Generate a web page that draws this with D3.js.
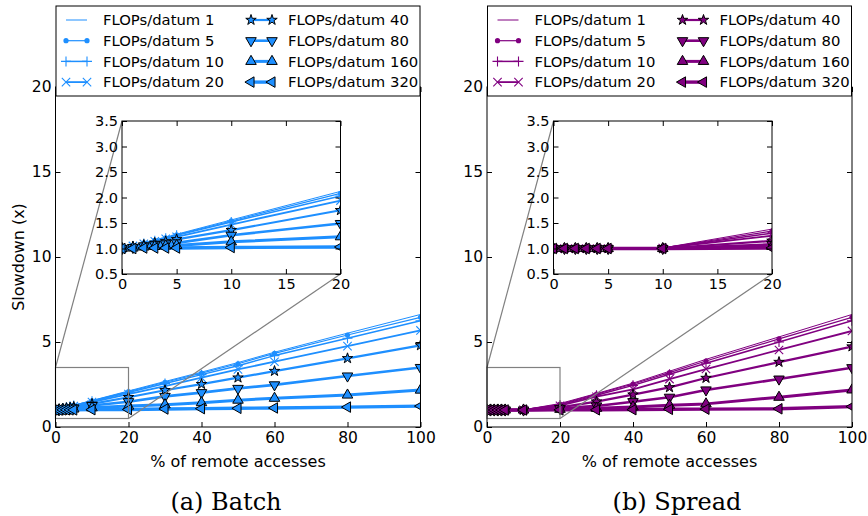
<!DOCTYPE html>
<html>
<head>
  <style>
    body { margin: 0; background: #fff; }
    svg { font-family: "DejaVu Sans", sans-serif; }
    .tick line { stroke: #000; stroke-width: 1px; }
    .caption { font-family: "DejaVu Serif", serif; font-size: 24px; }
  </style>
  <script src="https://d3js.org/d3.v7.min.js"></script>
</head>
<body>
<script>
// % of remote accesses
const remotePct = [0, 1, 2, 3, 4, 5, 10, 20, 30, 40, 50, 60, 80, 100];
const flops = [1, 5, 10, 20, 40, 80, 160, 320];

// slowdown per FLOPs/datum
const batchValues = [
  [1.00, 1.06, 1.11, 1.17, 1.22, 1.28, 1.56, 2.12, 2.68, 3.23, 3.79, 4.40, 5.52, 6.62],
  [1.00, 1.05, 1.11, 1.16, 1.21, 1.27, 1.54, 2.08, 2.63, 3.17, 3.72, 4.33, 5.41, 6.45],
  [1.00, 1.05, 1.10, 1.15, 1.20, 1.26, 1.52, 2.03, 2.56, 3.08, 3.60, 4.20, 5.22, 6.25],
  [1.00, 1.05, 1.09, 1.14, 1.19, 1.23, 1.47, 1.94, 2.41, 2.90, 3.39, 3.84, 4.76, 5.68],
  [1.00, 1.04, 1.07, 1.11, 1.14, 1.18, 1.36, 1.75, 2.16, 2.52, 2.90, 3.29, 4.04, 4.80],
  [1.00, 1.02, 1.05, 1.07, 1.09, 1.11, 1.26, 1.49, 1.80, 2.02, 2.27, 2.48, 3.00, 3.50],
  [1.00, 1.01, 1.03, 1.04, 1.05, 1.06, 1.13, 1.23, 1.31, 1.43, 1.58, 1.69, 1.88, 2.17],
  [1.00, 1.00, 1.01, 1.01, 1.01, 1.01, 1.02, 1.03, 1.06, 1.08, 1.10, 1.12, 1.17, 1.23]
];
const spreadValues = [
  [1.00, 1.00, 1.00, 1.00, 1.00, 1.00, 1.01, 1.38, 1.97, 2.58, 3.28, 3.98, 5.30, 6.62],
  [1.00, 1.00, 1.00, 1.00, 1.00, 1.00, 1.01, 1.34, 1.93, 2.53, 3.20, 3.88, 5.18, 6.45],
  [1.00, 1.00, 1.00, 1.00, 1.00, 1.00, 1.01, 1.30, 1.87, 2.45, 3.10, 3.75, 5.00, 6.25],
  [1.00, 1.00, 1.00, 1.00, 1.00, 1.00, 1.01, 1.25, 1.78, 2.22, 2.82, 3.41, 4.53, 5.65],
  [1.00, 1.00, 1.00, 1.00, 1.00, 1.00, 1.00, 1.15, 1.49, 1.90, 2.33, 2.88, 3.82, 4.73],
  [1.00, 1.00, 1.00, 1.00, 1.00, 1.00, 1.00, 1.08, 1.24, 1.49, 1.75, 2.18, 2.82, 3.49],
  [1.00, 1.00, 1.00, 1.00, 1.00, 1.00, 1.00, 1.04, 1.10, 1.18, 1.28, 1.36, 1.75, 2.18],
  [1.00, 1.00, 1.00, 1.00, 1.00, 1.00, 1.00, 1.01, 1.01, 1.02, 1.04, 1.05, 1.07, 1.20]
];

const xTicks = [0, 20, 40, 60, 80, 100];
const yTicks = [0, 5, 10, 15, 20];
const insetXTicks = [0, 5, 10, 15, 20];
const insetYTicks = [0.5, 1.0, 1.5, 2.0, 2.5, 3.0, 3.5];

const markerTypes = ['none', 'point', 'plus', 'cross', 'star', 'tridown', 'triup', 'trileft'];
const lineWidths = [1, 1.2, 1.5, 1.8, 2.2, 2.6, 3, 3.4];

const width = 868, height = 516;
const svg = d3.select('body').append('svg')
  .attr('width', width)
  .attr('height', height);
const defs = svg.append('defs');

const panels = [
  {id: 'a', x0: 55.5, values: batchValues, color: '#1e8fff', caption: '(a) Batch', captionX: 226, ylabel: true},
  {id: 'b', x0: 487, values: spreadValues, color: '#800080', caption: '(b) Spread', captionX: 677, ylabel: false}
];

function drawMarker(sel, type, color){
  if(type === 'none') return;
  if(type === 'point'){
    sel.append('circle').attr('r', 2.6).attr('fill', color);
  } else if(type === 'plus'){
    sel.append('path').attr('d', 'M-5,0H5M0,-5V5').attr('stroke', color).attr('stroke-width', 1.1);
  } else if(type === 'cross'){
    sel.append('path').attr('d', 'M-4.2,-4.2L4.2,4.2M-4.2,4.2L4.2,-4.2').attr('stroke', color).attr('stroke-width', 1.1);
  } else if(type === 'star'){
    sel.append('path').attr('d', d3.symbol(d3.symbolStar, 34)())
      .attr('fill', color).attr('stroke', '#000').attr('stroke-width', 1);
  } else {
    const rot = {triup: 0, tridown: 180, trileft: -90}[type];
    sel.append('path').attr('d', d3.symbol(d3.symbolTriangle, 48)())
      .attr('transform', `rotate(${rot})`)
      .attr('fill', color).attr('stroke', '#000').attr('stroke-width', 1);
  }
}

function drawSeries(g, xs, ys, values, color, clipId){
  const plot = g.append('g').attr('clip-path', `url(#${clipId})`);
  const line = d3.line().x(d => xs(d[0])).y(d => ys(d[1]));
  values.forEach((vals, i) => {
    const pts = remotePct.map((p, j) => [p, vals[j]]);
    plot.append('path')
      .attr('d', line(pts))
      .attr('fill', 'none')
      .attr('stroke', color)
      .attr('stroke-width', lineWidths[i])
      .attr('stroke-linejoin', 'round');
  });
  values.forEach((vals, i) => {
    plot.append('g').selectAll('g')
      .data(remotePct.map((p, j) => [p, vals[j]]))
      .join('g')
      .attr('transform', d => `translate(${xs(d[0])},${ys(d[1])})`)
      .each(function(){ drawMarker(d3.select(this), markerTypes[i], color); });
  });
}

function drawFrame(g, xs, ys, xt, yt, fmt, fontSize){
  const [xa, xb] = xs.range();
  const [yb, ya] = ys.range();
  g.append('g').attr('transform', `translate(0,${yb})`)
    .call(d3.axisBottom(xs).tickValues(xt).tickSize(-5).tickPadding(5).tickFormat(d3.format('d')))
    .call(a => a.select('.domain').remove())
    .selectAll('text').attr('font-size', fontSize).attr('font-family', 'DejaVu Sans').attr('fill', '#000');
  g.append('g').attr('transform', `translate(0,${ya})`)
    .call(d3.axisTop(xs).tickValues(xt).tickSize(-5).tickFormat(''))
    .call(a => a.select('.domain').remove());
  g.append('g').attr('transform', `translate(${xa},0)`)
    .call(d3.axisLeft(ys).tickValues(yt).tickSize(-5).tickPadding(4).tickFormat(fmt))
    .call(a => a.select('.domain').remove())
    .selectAll('text').attr('font-size', fontSize).attr('font-family', 'DejaVu Sans').attr('fill', '#000');
  g.append('g').attr('transform', `translate(${xb},0)`)
    .call(d3.axisRight(ys).tickValues(yt).tickSize(-5).tickFormat(''))
    .call(a => a.select('.domain').remove());
  g.append('rect')
    .attr('x', xa).attr('y', ya)
    .attr('width', xb - xa).attr('height', yb - ya)
    .attr('fill', 'none').attr('stroke', '#000').attr('stroke-width', 1);
}

panels.forEach(p => {
  const g = svg.append('g');
  const x = d3.scaleLinear().domain([0, 100]).range([p.x0, p.x0 + 365]);
  const y = d3.scaleLinear().domain([0, 20]).range([427, 87]);

  defs.append('clipPath').attr('id', 'clip-' + p.id)
    .append('rect').attr('x', p.x0).attr('y', 87).attr('width', 365).attr('height', 340);

  drawSeries(g, x, y, p.values, p.color, 'clip-' + p.id);

  // inset
  const ix = d3.scaleLinear().domain([0, 20]).range([p.x0 + 66.5, p.x0 + 285]);
  const iy = d3.scaleLinear().domain([0.5, 3.5]).range([274, 121]);

  // zoom box and connectors
  const zoom = g.append('g').attr('stroke', '#808080').attr('stroke-width', 1.2).attr('fill', 'none');
  zoom.append('rect')
    .attr('x', x(0)).attr('y', y(3.5))
    .attr('width', x(20) - x(0)).attr('height', y(0.5) - y(3.5));
  zoom.append('line')
    .attr('x1', x(0)).attr('y1', y(3.5)).attr('x2', ix(0)).attr('y2', iy(3.5));
  zoom.append('line')
    .attr('x1', x(20)).attr('y1', y(0.5)).attr('x2', ix(20)).attr('y2', iy(0.5));

  drawFrame(g, x, y, xTicks, yTicks, d3.format('d'), 15.5);

  const ig = g.append('g');
  ig.append('rect')
    .attr('x', ix(0)).attr('y', iy(3.5))
    .attr('width', ix(20) - ix(0)).attr('height', iy(0.5) - iy(3.5))
    .attr('fill', '#fff');
  defs.append('clipPath').attr('id', 'iclip-' + p.id)
    .append('rect').attr('x', ix(0)).attr('y', iy(3.5))
    .attr('width', ix(20) - ix(0)).attr('height', iy(0.5) - iy(3.5));
  drawSeries(ig, ix, iy, p.values, p.color, 'iclip-' + p.id);
  drawFrame(ig, ix, iy, insetXTicks, insetYTicks, d3.format('.1f'), 14.5);

  // axis labels
  g.append('text')
    .attr('x', p.x0 + 182.5).attr('y', 467)
    .attr('text-anchor', 'middle')
    .attr('font-size', 16)
    .text('% of remote accesses');
  if(p.ylabel){
    g.append('text')
      .attr('transform', `translate(${p.x0 - 32},257) rotate(-90)`)
      .attr('text-anchor', 'middle')
      .attr('font-size', 16)
      .text('Slowdown (x)');
  }

  // legend
  const lg = g.append('g');
  lg.append('rect')
    .attr('x', p.x0 + 0.5).attr('y', 6)
    .attr('width', 364).attr('height', 90)
    .attr('fill', '#fff').attr('stroke', '#000').attr('stroke-width', 1);
  flops.forEach((f, i) => {
    const col = Math.floor(i / 4), row = i % 4;
    const lx = p.x0 + (col === 0 ? 10.5 : 195.5);
    const ly = 20 + row * 20.7;
    const item = lg.append('g');
    item.append('line')
      .attr('x1', lx).attr('x2', lx + 21)
      .attr('y1', ly).attr('y2', ly)
      .attr('stroke', p.color).attr('stroke-width', lineWidths[i]);
    if(markerTypes[i] !== 'none'){
      [lx, lx + 21].forEach(mx => {
        drawMarker(item.append('g').attr('transform', `translate(${mx},${ly})`), markerTypes[i], p.color);
      });
    }
    item.append('text')
      .attr('x', lx + 37).attr('y', ly)
      .attr('dy', '0.35em')
      .attr('font-size', 14.8)
      .text('FLOPs/datum ' + f);
  });

  svg.append('text')
    .attr('class', 'caption')
    .attr('x', p.captionX).attr('y', 510)
    .attr('text-anchor', 'middle')
    .text(p.caption);
});
</script>
</body>
</html>
